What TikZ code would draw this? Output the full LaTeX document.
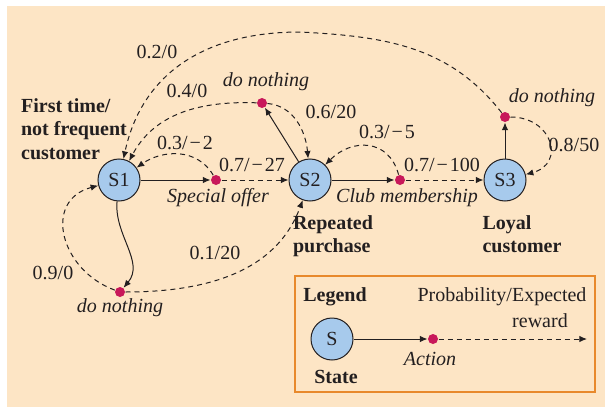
\documentclass[tikz,border=0pt]{standalone}
\usepackage{fontspec}
\setmainfont{Liberation Serif}
\usepackage{tikz}
\usetikzlibrary{arrows.meta,positioning}
\definecolor{paper}{HTML}{FDE5C5}
\definecolor{stateblue}{HTML}{A7CAEC}
\definecolor{actred}{HTML}{C8185A}
\definecolor{legendorange}{HTML}{E8892C}
\definecolor{ink}{HTML}{231F20}

\begin{document}
\begin{tikzpicture}
		[x=0.5pt, y=-0.5pt, font=\fontsize{10}{12}\selectfont, line width=0.5pt, draw=ink, text=ink,
		state/.style={draw,circle,fill=stateblue,minimum size=21pt,inner sep=0pt},
		action/.style={circle,fill=actred,minimum size=5pt,inner sep=0pt},
		lab/.style={font=\fontsize{10}{11.8}\selectfont\bfseries,align=left},
		acttxt/.style={font=\fontsize{10}{12}\selectfont\itshape},
		act/.style={-{Latex[length=3.8pt,width=3.2pt]}},
		prob/.style={dash pattern=on 2.5pt off 2pt,-{Latex[length=3.8pt,width=3.2pt]}}]

			\useasboundingbox (0,0) rectangle (605,407);
			\fill[paper] (7,6) rectangle (605,407);

			% states and actions
			\node[state](s1) at (119,180) {S1};
			\node[state](s2) at (310,180) {S2};
			\node[state](s3) at (505,180) {S3};
			\node[action](so) at (216,180) {};
			\node[action](cm) at (400,180) {};
			\node[action](dn2) at (262,103) {};
			\node[action](dn3) at (505,117) {};
			\node[action](dn1) at (120,292) {};
			\coordinate (arctop) at (300,32);

			% texts
			\node[lab](s1txt) at (74,129) {First time/\\not frequent\\customer};
			\node[lab](s2txt) at (333,236) {Repeated\\purchase};
			\node[lab](s3txt) at (522,234) {Loyal\\customer};
			\node[acttxt](sotxt) at (218,198) {Special offer};
			\node[acttxt](cmtxt) at (407,198) {Club membership};
			\node[acttxt](dn2txt) at (266,82) {do nothing};
			\node[acttxt](dn3txt) at (552,98) {do nothing};
			\node[acttxt](dn1txt) at (120,308) {do nothing};

			\node(p1) at (157,52) {0.2/0};
			\node(p2) at (187,91) {0.4/0};
			\node(p3) at (185,143) {0.3/\kern1pt−\kern1pt2};
			\node(p4) at (252,165) {0.7/\kern1pt−\kern1pt27};
			\node(p5) at (331,112) {0.6/20};
			\node(p6) at (387,132) {0.3/\kern1pt−\kern1pt5};
			\node(p7) at (442,165) {0.7/\kern1pt−\kern1pt100};
			\node(p8) at (574,145) {0.8/50};
			\node(p9) at (53,273) {0.9/0};
			\node(p10) at (215,253) {0.1/20};

			\path
			(s1) edge[act] (so)
			(so) edge[prob] (s2)
			(so) edge[prob, out=120, in=35, looseness=1.05] (s1)
			(s2) edge[act] (dn2)
			(dn2) edge[prob, out=178, in=62] (s1)
			(dn2) edge[prob, out=-5, in=95] (s2)
			(s2) edge[act] (cm)
			(cm) edge[prob] (s3)
			(cm) edge[prob, out=105, in=45, looseness=1.3] (s2)
			(s3) edge[act] (dn3)
			(dn3) edge[prob, out=0, in=15, looseness=1.8] (s3)
			(dn1) edge[prob, out=160, in=195, looseness=1.4] (s1)
			(dn1) edge[prob, out=0, in=250] (s2);
			\draw[prob] (dn3) to[out=128, in=-3] (arctop) to[out=180, in=78, out looseness=1.15, in looseness=1] (s1);
			\draw[act] (s1) .. controls (114,235) and (145,262) .. (dn1);

			% legend
			\draw[legendorange, line width=1pt] (295,276) rectangle (595,392);
			\node[lab](legtxt) at (335,297) {Legend};
			\node[state](ls) at (332,339) {S};
			\node[lab](lstxt) at (336,377) {State};
			\node[action](la) at (433,339) {};
			\node[acttxt](latxt) at (430,359) {Action};
			\coordinate (lend) at (587,339);
			\node(probtxt) at (502,297) {Probability/Expected};
			\node(rewtxt) at (540,321) {reward};
			\path
			(ls) edge[act] (la)
			(la) edge[prob] (lend);

	\end{tikzpicture}
\end{document}
